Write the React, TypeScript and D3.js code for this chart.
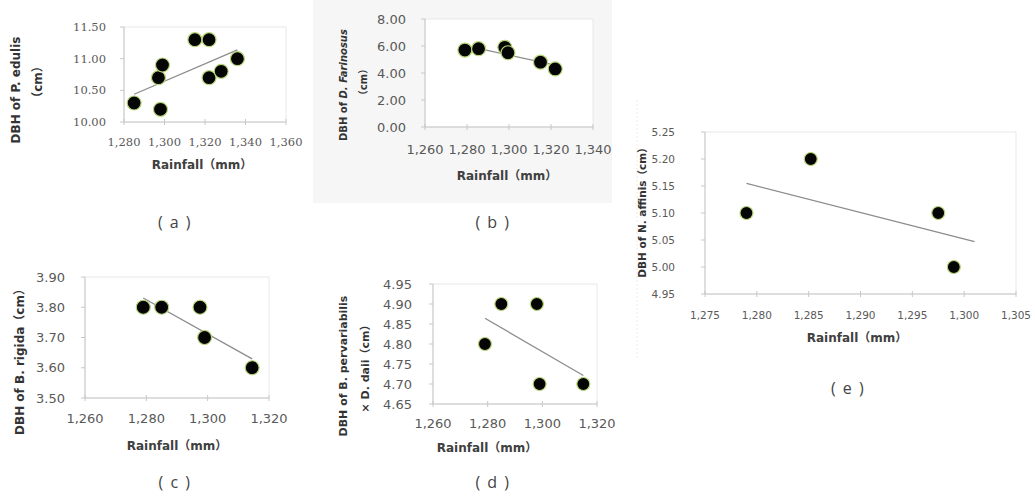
import React from "react";
import * as d3 from "d3";

// ---------- data ----------
const rainfallA = [1285, 1298, 1297, 1299, 1315, 1322, 1322, 1328, 1336];
const dbhA = [10.3, 10.2, 10.7, 10.9, 11.3, 11.3, 10.7, 10.8, 11.0];
const xTicksA = [1280, 1300, 1320, 1340, 1360];
const yTicksA = [10.0, 10.5, 11.0, 11.5];

const rainfallB = [1279, 1285.5, 1298, 1299.5, 1315, 1322];
const dbhB = [5.7, 5.8, 5.9, 5.5, 4.8, 4.3];
const xTicksB = [1260, 1280, 1300, 1320, 1340];
const yTicksB = [0, 2, 4, 6, 8];

const rainfallC = [1279, 1285, 1297.5, 1299, 1314.5];
const dbhC = [3.8, 3.8, 3.8, 3.7, 3.6];
const xTicksC = [1260, 1280, 1300, 1320];
const yTicksC = [3.5, 3.6, 3.7, 3.8, 3.9];

const rainfallD = [1279, 1285, 1298, 1299, 1315];
const dbhD = [4.8, 4.9, 4.9, 4.7, 4.7];
const xTicksD = [1260, 1280, 1300, 1320];
const yTicksD = [4.65, 4.7, 4.75, 4.8, 4.85, 4.9, 4.95];

const rainfallE = [1279, 1285.2, 1297.5, 1299];
const dbhE = [5.1, 5.2, 5.1, 5.0];
const xTicksE = [1275, 1280, 1285, 1290, 1295, 1300, 1305];
const yTicksE = [4.95, 5.0, 5.05, 5.1, 5.15, 5.2, 5.25];
const trendEndE = 1301;

const xTitle = "Rainfall（mm）";
const panelLabels = ["( a )", "( b )", "( c )", "( d )", "( e )"];

// ---------- helpers ----------
function regression(xs: number[], ys: number[]) {
  const mx = d3.mean(xs) as number;
  const my = d3.mean(ys) as number;
  let sxy = 0;
  let sxx = 0;
  xs.forEach((v, i) => {
    sxy += (v - mx) * (ys[i] - my);
    sxx += (v - mx) * (v - mx);
  });
  const slope = sxy / sxx;
  return (v: number) => my + slope * (v - mx);
}

const fmtX = d3.format(",");
const fmtY = d3.format(".2f");
const SANS = "'DejaVu Sans', 'Noto Sans CJK SC', sans-serif";
const TITLE_FONT = "'DejaVu Sans', 'Noto Sans CJK SC', sans-serif";

type PanelProps = {
  xs: number[];
  ys: number[];
  xTicks: number[];
  yTicks: number[];
  left: number;
  right: number;
  top: number;
  bottom: number;
  labelGap: number;
  xLabelY: number;
  titleX: number;
  titleY: number;
  tickFont: string;
  tickSize: number;
  r: number;
  trendEnd?: number;
  yLabel: React.ReactNode;
};

function Panel(p: PanelProps) {
  const x = d3
    .scaleLinear()
    .domain([p.xTicks[0], p.xTicks[p.xTicks.length - 1]])
    .range([p.left, p.right]);
  const y = d3
    .scaleLinear()
    .domain([p.yTicks[0], p.yTicks[p.yTicks.length - 1]])
    .range([p.bottom, p.top]);
  const fit = regression(p.xs, p.ys);
  const x0 = d3.min(p.xs) as number;
  const x1 = p.trendEnd ?? (d3.max(p.xs) as number);
  const line = d3
    .line<number>()
    .x((d) => x(d))
    .y((d) => y(fit(d)));
  return (
    <g>
      <rect
        x={p.left}
        y={p.top}
        width={p.right - p.left}
        height={p.bottom - p.top}
        fill="#ffffff"
        stroke="#e8e8e8"
        strokeWidth={1}
      />
      {/* y axis */}
      <line x1={p.left} x2={p.left} y1={p.top} y2={p.bottom} stroke="#c8c8c8" />
      {p.yTicks.map((t) => (
        <g key={"y" + t}>
          <line x1={p.left - 4} x2={p.left} y1={y(t)} y2={y(t)} stroke="#c8c8c8" />
          <text
            x={p.left - p.labelGap}
            y={y(t)}
            textAnchor="end"
            dominantBaseline="central"
            fontFamily={p.tickFont}
            fontSize={p.tickSize}
            fill="#595959"
          >
            {fmtY(t)}
          </text>
        </g>
      ))}
      {/* x axis */}
      <line x1={p.left} x2={p.right} y1={p.bottom} y2={p.bottom} stroke="#c8c8c8" />
      {p.xTicks.map((t) => (
        <g key={"x" + t}>
          <line x1={x(t)} x2={x(t)} y1={p.bottom - 3} y2={p.bottom + 3} stroke="#c8c8c8" />
          <text
            x={x(t)}
            y={p.xLabelY}
            textAnchor="middle"
            dominantBaseline="central"
            fontFamily={p.tickFont}
            fontSize={p.tickSize}
            fill="#595959"
          >
            {fmtX(t)}
          </text>
        </g>
      ))}
      <text
        x={p.titleX}
        y={p.titleY}
        textAnchor="middle"
        dominantBaseline="central"
        fontFamily={TITLE_FONT}
        fontWeight="bold"
        fontSize={12}
        fill="#404040"
      >
        {xTitle}
      </text>
      {p.yLabel}
      {/* trend line */}
      <path d={line([x0, x1]) || ""} fill="none" stroke="#8c8c8c" strokeWidth={1.3} />
      {/* points */}
      {p.xs.map((v, i) => (
        <circle
          key={"p" + i}
          cx={x(v)}
          cy={y(p.ys[i])}
          r={p.r}
          fill="#050505"
          stroke="#b9d77a"
          strokeWidth={1.2}
        />
      ))}
    </g>
  );
}

function VLabel(props: { x: number; y: number; size?: number; children: React.ReactNode }) {
  return (
    <text
      transform={`translate(${props.x},${props.y}) rotate(-90)`}
      textAnchor="middle"
      dominantBaseline="central"
      fontFamily={TITLE_FONT}
      fontWeight="bold"
      fontSize={props.size ?? 11}
      fill="#333333"
    >
      {props.children}
    </text>
  );
}

function PanelLabel(props: { x: number; y: number; text: string }) {
  return (
    <text
      x={props.x}
      y={props.y}
      textAnchor="middle"
      dominantBaseline="central"
      fontFamily="'Open Sans', sans-serif"
      fontSize={16}
      letterSpacing={1.5}
      fill="#444444"
    >
      {props.text}
    </text>
  );
}

export default function App() {
  return (
    <svg
      width={1035}
      height={500}
      style={{ position: "absolute", left: 0, top: 0, background: "#ffffff" }}
    >
      {/* panel b background */}
      <rect x={313} y={0} width={299} height={203} fill="#f6f6f6" />
      <line x1={637} x2={637} y1={100} y2={360} stroke="#ececec" strokeDasharray="2,2" />

      <Panel
        xs={rainfallA}
        ys={dbhA}
        xTicks={xTicksA}
        yTicks={yTicksA}
        left={124}
        right={286}
        top={27}
        bottom={122}
        labelGap={18}
        xLabelY={142}
        titleX={202}
        titleY={165}
        tickFont="'DejaVu Serif', serif"
        tickSize={11.5}
        r={7}
        yLabel={
          <g>
            <VLabel x={16} y={90} size={12}>DBH of P. edulis</VLabel>
            <VLabel x={38} y={82} size={12}>（cm）</VLabel>
          </g>
        }
      />
      <Panel
        xs={rainfallB}
        ys={dbhB}
        xTicks={xTicksB}
        yTicks={yTicksB}
        left={425}
        right={593}
        top={19}
        bottom={127}
        labelGap={19}
        xLabelY={149}
        titleX={507}
        titleY={176}
        tickFont={SANS}
        tickSize={13}
        r={7}
        yLabel={
          <g>
            <VLabel x={343} y={85} size={10}>
              DBH of <tspan fontStyle="italic">D. Farinosus</tspan>
            </VLabel>
            <VLabel x={363} y={82} size={10}>（cm）</VLabel>
          </g>
        }
      />
      <Panel
        xs={rainfallC}
        ys={dbhC}
        xTicks={xTicksC}
        yTicks={yTicksC}
        left={85}
        right={269}
        top={277}
        bottom={398}
        labelGap={20}
        xLabelY={418}
        titleX={177}
        titleY={446}
        tickFont={SANS}
        tickSize={13}
        r={7}
        yLabel={<VLabel x={20} y={359} size={12}>DBH of B. rigida（cm）</VLabel>}
      />
      <Panel
        xs={rainfallD}
        ys={dbhD}
        xTicks={xTicksD}
        yTicks={yTicksD}
        left={433}
        right={597}
        top={284}
        bottom={404}
        labelGap={21}
        xLabelY={423}
        titleX={487}
        titleY={448}
        tickFont={SANS}
        tickSize={13}
        r={6.5}
        yLabel={
          <g>
            <VLabel x={343} y={366} size={11}>DBH of B. pervariabilis</VLabel>
            <VLabel x={365} y={366} size={11}>× D. daii（cm）</VLabel>
          </g>
        }
      />
      <Panel
        xs={rainfallE}
        ys={dbhE}
        xTicks={xTicksE}
        yTicks={yTicksE}
        left={705}
        right={1016}
        top={132}
        bottom={294}
        labelGap={30}
        xLabelY={315}
        titleX={857}
        titleY={338}
        tickFont={SANS}
        tickSize={10.5}
        r={6.5}
        trendEnd={trendEndE}
        yLabel={<VLabel x={642} y={210} size={10.5}>DBH of N. affinis（cm）</VLabel>}
      />

      <PanelLabel x={175} y={222} text={panelLabels[0]} />
      <PanelLabel x={493} y={222} text={panelLabels[1]} />
      <PanelLabel x={175} y={482} text={panelLabels[2]} />
      <PanelLabel x={493} y={482} text={panelLabels[3]} />
      <PanelLabel x={848} y={388} text={panelLabels[4]} />
    </svg>
  );
}
